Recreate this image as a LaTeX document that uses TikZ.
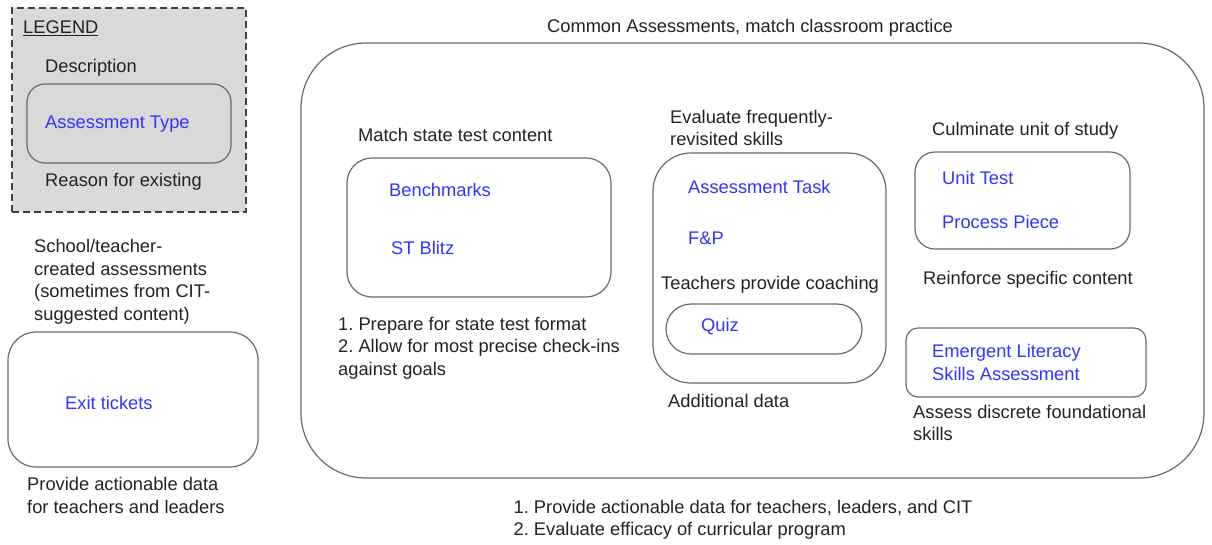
\documentclass[tikz,border=0pt]{standalone}
\usepackage{fontspec}
\setmainfont{Liberation Sans}
\frenchspacing
\definecolor{txtgray}{HTML}{222222}
\definecolor{myblue}{HTML}{3333FF}
\definecolor{boxgray}{HTML}{6A6A6A}
\definecolor{legfill}{HTML}{D9D9D9}
\tikzset{
  txt/.style={inner sep=0pt, anchor=west, text=txtgray, align=left, font=\fontsize{18.3}{22.5}\selectfont},
  bluetxt/.style={txt, text=myblue},
  box/.style={draw=boxgray, line width=1.2pt, rectangle, inner sep=0pt},
}
\begin{document}
\begin{tikzpicture}[x=1pt,y=-1pt]
\useasboundingbox (0,0) rectangle (1212,544);
% legend
\node[box, draw=black!75, dash pattern=on 7pt off 4pt, line width=2pt, fill=legfill, minimum width=234pt, minimum height=204pt] (legend) at (129,110) {};
\node[box, fill=legfill, rounded corners=18pt, minimum width=204pt, minimum height=79pt] (legbox) at (129,123.5) {};
\node[txt] (legtitle) at (23,28) {\underline{LEGEND}};
\node[txt] (legdesc) at (45,68) {Description};
\node[bluetxt] (legtype) at (45,124) {Assessment Type};
\node[txt] (legreason) at (45,182) {Reason for existing};
% school
\node[txt] (school) at (34,282) {School/teacher-\\created assessments\\(sometimes from CIT-\\suggested content)};
\node[box, rounded corners=28pt, minimum width=250pt, minimum height=135pt] (exitbox) at (133,399.5) {};
\node[bluetxt] (exit) at (65,403) {Exit tickets};
\node[txt] (exitreason) at (27,495.5) {Provide actionable data\\for teachers and leaders};
% common
\node[txt, anchor=center] (common) at (750,28) {Common Assessments, match classroom practice};
\node[box, rounded corners=65pt, minimum width=903pt, minimum height=435pt] (big) at (752.5,260.5) {};
\node[txt, anchor=center] (commonreason) at (743,520) {1. Provide actionable data for teachers, leaders, and CIT\\2. Evaluate efficacy of curricular program};
% bench
\node[txt] (matchdesc) at (358,135) {Match state test content};
\node[box, rounded corners=25pt, minimum width=264pt, minimum height=139pt] (benchbox) at (479,227.5) {};
\node[bluetxt] (bench) at (389,190) {Benchmarks};
\node[bluetxt] (blitz) at (391,248) {ST Blitz};
\node[txt] (benchreason) at (338,348) {1. Prepare for state test format\\2. Allow for most precise check-ins\\against goals};
% middle
\node[txt] (evaldesc) at (670,128) {Evaluate frequently-\\revisited skills};
\node[box, rounded corners=38pt, minimum width=233pt, minimum height=230pt] (midbox) at (769.5,268) {};
\node[bluetxt] (task) at (688,187) {Assessment Task};
\node[bluetxt] (fp) at (688,238) {F\&P};
\node[txt] (coach) at (661,285) {Teachers provide coaching};
\node[box, rounded corners=25pt, minimum width=196pt, minimum height=50pt] (quizbox) at (764,329) {};
\node[bluetxt] (quiz) at (701,327) {Quiz};
\node[txt] (additional) at (668,401) {Additional data};
% right
\node[txt] (culm) at (932,131) {Culminate unit of study};
\node[box, rounded corners=20pt, minimum width=215pt, minimum height=97pt] (unitbox) at (1022.5,200.5) {};
\node[bluetxt] (unit) at (942,178) {Unit Test};
\node[bluetxt] (process) at (942,222) {Process Piece};
\node[txt] (reinforce) at (923,280) {Reinforce specific content};
\node[box, rounded corners=12pt, minimum width=240pt, minimum height=69pt] (emergbox) at (1026,362.5) {};
\node[bluetxt] (emerg) at (932,362.5) {Emergent Literacy\\Skills Assessment};
\node[txt] (assess) at (913,423) {Assess discrete foundational\\skills};
\end{tikzpicture}
\end{document}
